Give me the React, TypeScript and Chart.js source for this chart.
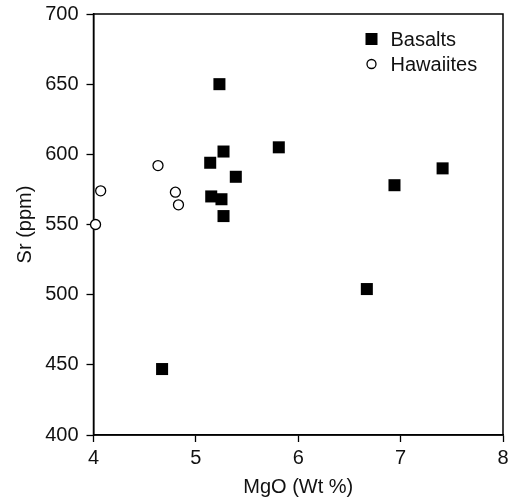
import React, { useEffect, useRef } from "react";
import { Chart, registerables } from "chart.js";

Chart.register(...registerables);

const basaltMgO = [5.23, 5.27, 5.14, 5.81, 5.39, 5.15, 5.25, 5.27, 7.41, 6.94, 6.67, 4.67];
const basaltSr = [650, 602, 594, 605, 584, 570, 568, 556, 590, 578, 504, 447];
const hawaiiteMgO = [4.07, 4.63, 4.8, 4.83, 4.02];
const hawaiiteSr = [574, 592, 573, 564, 550];

const xTicks = [4, 5, 6, 7, 8];
const yTicks = [400, 450, 500, 550, 600, 650, 700];
const seriesNames = ["Basalts", "Hawaiites"];
const xTitle = "MgO (Wt %)";
const yTitle = "Sr (ppm)";

const FONT = "'Liberation Sans', Arial, sans-serif";
const FS = 20;

const frameAndLegend = {
  id: "frameAndLegend",
  beforeDatasetsDraw(chart: any) {
    const { ctx, chartArea } = chart;
    const { left, top, right, bottom } = chartArea;
    ctx.save();
    ctx.strokeStyle = "#000";
    ctx.lineWidth = 1.5;
    ctx.strokeRect(left, top, right - left, bottom - top);
    ctx.restore();
  },
  afterDraw(chart: any) {
    const { ctx, chartArea } = chart;
    const { left, top } = chartArea;
    ctx.save();
    const lx = left + 278;
    const y1 = top + 25;
    const y2 = top + 50;
    ctx.fillStyle = "#000";
    ctx.fillRect(lx - 6, y1 - 6, 12, 12);
    ctx.beginPath();
    ctx.arc(lx, y2, 4.5, 0, Math.PI * 2);
    ctx.fillStyle = "#fff";
    ctx.fill();
    ctx.lineWidth = 1.3;
    ctx.strokeStyle = "#000";
    ctx.stroke();
    ctx.fillStyle = "#111";
    ctx.font = `${FS}px ${FONT}`;
    ctx.textBaseline = "middle";
    ctx.textAlign = "left";
    ctx.fillText(seriesNames[0], lx + 19, y1 + 1);
    ctx.fillText(seriesNames[1], lx + 19, y2 + 1);
    ctx.restore();
  },
};

export default function App() {
  const ref = useRef<HTMLCanvasElement>(null);
  useEffect(() => {
    const canvas = ref.current!;
    const chart = new Chart(canvas, {
      type: "scatter",
      data: {
        datasets: [
          {
            label: seriesNames[0],
            data: basaltMgO.map((x, i) => ({ x, y: basaltSr[i] })),
            pointStyle: "rect",
            pointRadius: 8.5,
            pointHoverRadius: 8.5,
            backgroundColor: "#000",
            borderColor: "#000",
            borderWidth: 0,
            clip: false,
          },
          {
            label: seriesNames[1],
            data: hawaiiteMgO.map((x, i) => ({ x, y: hawaiiteSr[i] })),
            pointStyle: "circle",
            pointRadius: 5,
            pointHoverRadius: 5,
            backgroundColor: "#fff",
            borderColor: "#000",
            borderWidth: 1.3,
            clip: false,
          },
        ],
      },
      options: {
        animation: false,
        responsive: false,
        maintainAspectRatio: false,
        events: [],
        layout: { padding: { left: 0, right: 10, top: 14, bottom: 0 } },
        plugins: { legend: { display: false }, tooltip: { enabled: false } },
        scales: {
          x: {
            type: "linear",
            min: 4,
            max: 8,
            afterBuildTicks: (s: any) => {
              s.ticks = xTicks.map((v) => ({ value: v }));
            },
            afterFit: (s: any) => {
              s.height = 67;
              s.paddingLeft = 0;
              s.paddingRight = 0;
            },
            grid: { display: true, drawOnChartArea: false, drawTicks: true, tickLength: 7, tickColor: "#000", tickWidth: 1.3 },
            border: { display: true, color: "#000", width: 1.5 },
            ticks: { color: "#111", font: { family: FONT, size: FS }, padding: 4, maxRotation: 0 },
            title: { display: true, text: xTitle, color: "#111", font: { family: FONT, size: FS }, padding: { top: 0, bottom: 3 } },
          },
          y: {
            type: "linear",
            min: 400,
            max: 700,
            afterBuildTicks: (s: any) => {
              s.ticks = yTicks.map((v) => ({ value: v }));
            },
            afterFit: (s: any) => {
              s.width = 93.5;
              s.paddingTop = 0;
              s.paddingBottom = 0;
            },
            grid: { display: true, drawOnChartArea: false, drawTicks: true, tickLength: 7, tickColor: "#000", tickWidth: 1.3 },
            border: { display: true, color: "#000", width: 1.5 },
            ticks: { color: "#111", font: { family: FONT, size: FS }, padding: 8 },
            title: { display: true, text: yTitle, color: "#111", font: { family: FONT, size: FS }, padding: { top: 13, bottom: 0 } },
          },
        },
      },
      plugins: [frameAndLegend],
    } as any);
    return () => chart.destroy();
  }, []);
  return (
    <div style={{ position: "fixed", left: 0, top: 0, width: 513, height: 502, background: "#fff" }}>
      <canvas ref={ref} width={513} height={502} style={{ width: 513, height: 502, display: "block" }} />
    </div>
  );
}
